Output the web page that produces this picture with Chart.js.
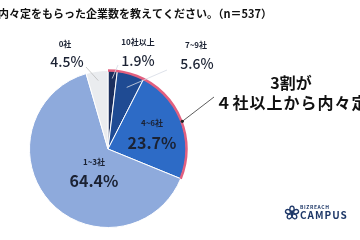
<!DOCTYPE html>
<html>
<head>
<meta charset="utf-8">
<script src="https://cdn.jsdelivr.net/npm/chart.js"></script>
<style>
  html, body { margin: 0; padding: 0; background: #fff; }
  #wrap { width: 360px; height: 240px; }
</style>
</head>
<body>
<div id="wrap"><canvas id="pieChart" width="360" height="240"></canvas></div>
<script>
// 内々定をもらった企業数 (n=537)
const categories = ['10社以上', '7~9社', '4~6社', '1~3社', '0社'];
const shares = [1.9, 5.6, 23.7, 64.4, 4.5];
const pctLabels = ['1.9%', '5.6%', '23.7%', '64.4%', '4.5%'];
const sliceColors = ['#1b2f5e', '#1f4b93', '#2d6bc6', '#8eaadc', '#eaecef'];

const JP = '"Noto Sans CJK JP", "Noto Sans", sans-serif';
const ink = '#1b2233';

// where each slice's text sits (centre points) and whether it gets a leader line
const labelSpots = [
  { cat: [138, 42], pct: [138, 61], size: 14, leader: [118, 65], reach: 0.9 },
  { cat: [196, 45], pct: [197, 64], size: 14, leader: [167, 70], reach: 0.82 },
  { cat: [152, 123], pct: [152, 143], size: 16, leader: null },
  { cat: [94, 162], pct: [94, 181], size: 16, leader: null },
  { cat: [65, 44], pct: [67, 62], size: 14, leader: [86, 67], reach: 0.88 }
];

function pointOn(arc, f, ang) {
  const a = ang === undefined ? (arc.startAngle + arc.endAngle) / 2 : ang;
  return { x: arc.x + Math.cos(a) * arc.outerRadius * f, y: arc.y + Math.sin(a) * arc.outerRadius * f };
}

const sliceLabels = {
  id: 'sliceLabels',
  afterDatasetsDraw(chart) {
    const ctx = chart.ctx;
    const arcs = chart.getDatasetMeta(0).data;
    ctx.save();

    // pink highlight along the outer edge of the "4社以上" slices
    const first = arcs[0], third = arcs[2];
    ctx.beginPath();
    ctx.arc(first.x, first.y, first.outerRadius, first.startAngle, third.endAngle);
    ctx.strokeStyle = '#e2607f';
    ctx.lineWidth = 2.5;
    ctx.stroke();

    arcs.forEach((arc, i) => {
      const spot = labelSpots[i];
      if (spot.leader) {
        const p = pointOn(arc, spot.reach);
        ctx.beginPath();
        ctx.moveTo(spot.leader[0], spot.leader[1]);
        ctx.lineTo(p.x, p.y);
        ctx.strokeStyle = i === 4 ? '#bdbdbd' : '#d6dbe4';
        ctx.lineWidth = 0.8;
        ctx.stroke();
      }
      ctx.fillStyle = ink;
      ctx.textAlign = 'center';
      ctx.textBaseline = 'middle';
      ctx.font = 'bold 8px ' + JP;
      ctx.fillText(categories[i], spot.cat[0], spot.cat[1]);
      ctx.font = (i === 2 || i === 3 ? 'bold ' : '500 ') + spot.size + 'px ' + JP;
      ctx.fillText(pctLabels[i], spot.pct[0], spot.pct[1]);
    });

    // callout
    const edge = pointOn(arcs[2], 1.01);
    ctx.beginPath();
    ctx.moveTo(214, 97);
    ctx.lineTo(edge.x, edge.y);
    ctx.strokeStyle = '#333';
    ctx.lineWidth = 0.8;
    ctx.stroke();
    ctx.beginPath();
    ctx.arc(edge.x, edge.y, 1.6, 0, Math.PI * 2);
    ctx.fillStyle = '#222';
    ctx.fill();

    ctx.fillStyle = '#111';
    ctx.font = 'bold 16px ' + JP;
    ctx.textAlign = 'center';
    ctx.fillText('3割が', 291, 83);
    ctx.letterSpacing = '1px';
    ctx.fillText('４社以上から内々定', 292, 103);
    ctx.letterSpacing = '0px';

    // title (cut at the left edge as in the source)
    ctx.textAlign = 'left';
    ctx.font = 'bold 11px ' + JP;
    ctx.fillStyle = '#111';
    ctx.fillText('内々定をもらった企業数を教えてください。（n＝537）', -2, 14);

    // logo
    drawLogo(ctx, 292, 213);
    ctx.restore();
  }
};

function drawLogo(ctx, cx, cy) {
  const navy = '#1e3868';
  ctx.save();
  ctx.strokeStyle = navy;
  ctx.lineWidth = 1.3;
  ctx.lineJoin = 'round';
  // five rounded petals
  for (let k = 0; k < 5; k++) {
    const a = -Math.PI / 2 + k * 2 * Math.PI / 5;
    ctx.beginPath();
    ctx.ellipse(cx + Math.cos(a) * 3.6, cy + Math.sin(a) * 3.6, 3.2, 2.2, a, 0, Math.PI * 2);
    ctx.stroke();
  }
  ctx.fillStyle = navy;
  ctx.textAlign = 'left';
  ctx.textBaseline = 'middle';
  ctx.font = 'bold 5px ' + JP;
  ctx.letterSpacing = '0.6px';
  ctx.fillText('BIZREACH', 300, 207);
  ctx.font = 'bold 10px ' + JP;
  ctx.letterSpacing = '1px';
  ctx.fillText('CAMPUS', 300, 215);
  ctx.restore();
}

new Chart(document.getElementById('pieChart'), {
  type: 'pie',
  data: {
    labels: categories,
    datasets: [{
      data: shares,
      backgroundColor: sliceColors,
      borderColor: '#ffffff',
      borderWidth: 1
    }]
  },
  options: {
    responsive: false,
    animation: false,
    layout: { padding: { left: 29, right: 173, top: 70, bottom: 12 } },
    plugins: {
      legend: { display: false },
      tooltip: { enabled: false }
    }
  },
  plugins: [sliceLabels]
});
</script>
</body>
</html>
